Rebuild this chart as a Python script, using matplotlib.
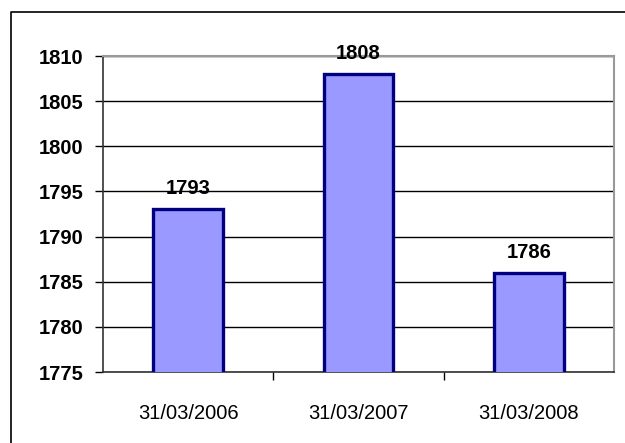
import matplotlib
matplotlib.use("Agg")
from matplotlib import pyplot as plt
from matplotlib.lines import Line2D

# data
dates = ["31/03/2006", "31/03/2007", "31/03/2008"]
values = [1793, 1808, 1786]
y_ticks = [1775, 1780, 1785, 1790, 1795, 1800, 1805, 1810]

plt.rcParams["font.family"] = ["Liberation Sans", "DejaVu Sans"]

fig = plt.figure(figsize=(6.25, 4.43), dpi=100)
ax = fig.add_axes([103 / 625, 1 - 372 / 443, 511 / 625, 316 / 443])

# chart border, only top and left visible (rest is cropped)
bx, by = 11 / 625, 1 - 12 / 443
fig.lines.append(Line2D([bx, bx, 1.0], [0.0, by, by], transform=fig.transFigure,
                        color="black", linewidth=1.2))

x = range(len(dates))
ax.bar(x, values, width=0.41, color="#9999FF", edgecolor="#000080",
       linewidth=2.4, zorder=3)

for i, v in zip(x, values):
    ax.annotate(str(v), (i, v), xytext=(0, 8), textcoords="offset points",
                ha="center", va="bottom", fontsize=14.5, fontweight="bold")

ax.set_xlim(-0.5, 2.5)
ax.set_ylim(1775, 1810)
ax.set_yticks(y_ticks)
ax.set_yticklabels([str(t) for t in y_ticks], fontsize=14.5, fontweight="bold")
ax.set_xticks([0.5, 1.5])
ax.set_xticklabels([])
ax.set_xticks(list(x), minor=True)
ax.set_xticklabels(dates, minor=True, fontsize=14.5)
ax.tick_params(axis="x", which="minor", length=0, pad=23)
ax.tick_params(axis="x", which="major", length=6, width=1, direction="out")
ax.tick_params(axis="y", length=6, width=1, pad=8, direction="out")

ax.yaxis.grid(True, color="black", linewidth=1, zorder=0)
ax.set_axisbelow(True)

for side in ["top", "right"]:
    ax.spines[side].set_color("#999999")
    ax.spines[side].set_linewidth(1.5)
for side in ["left", "bottom"]:
    ax.spines[side].set_color("#333333")
    ax.spines[side].set_linewidth(1.2)

fig.savefig("out.png", dpi=100)
